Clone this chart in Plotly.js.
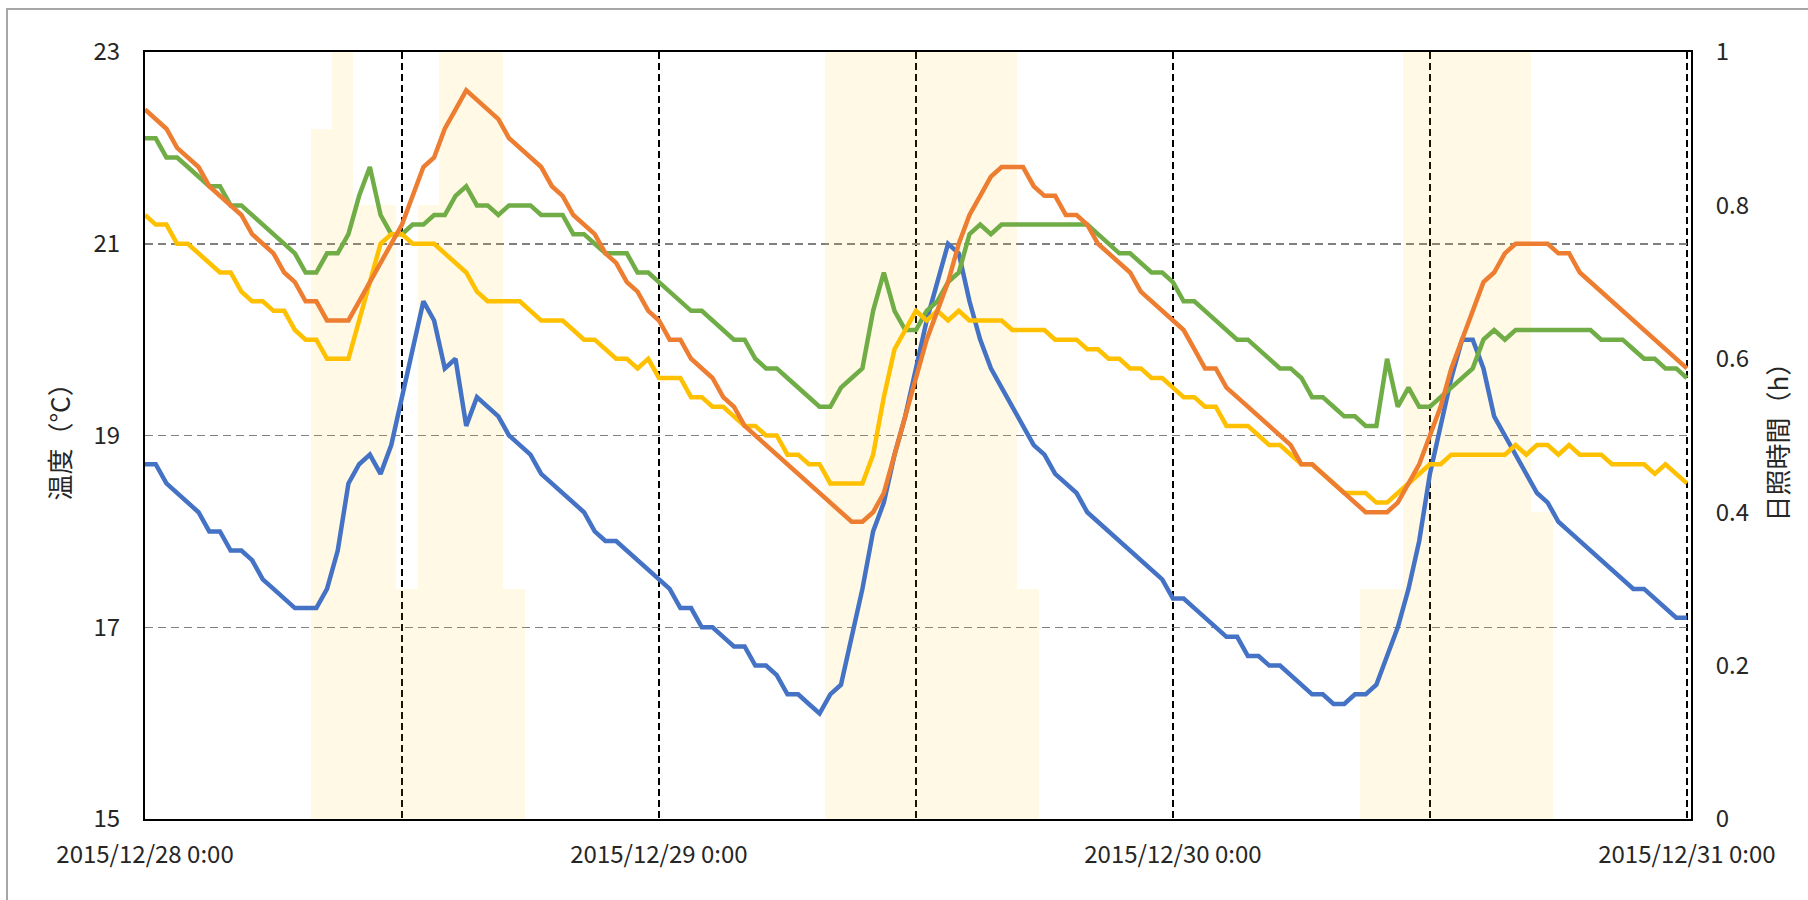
<!DOCTYPE html>
<html>
<head>
<meta charset="utf-8">
<script src="https://cdn.plot.ly/plotly-3.0.1.min.js"></script>
<style>
html, body { margin: 0; padding: 0; background: #ffffff; }
#wrap { position: relative; width: 1808px; height: 900px; overflow: hidden; }
#chart { width: 1808px; height: 900px; }
#chart svg text {
  text-spacing-trim: space-all;
  font-kerning: none;
  font-feature-settings: "kern" 0, "palt" 0, "halt" 0, "chws" 0, "vchw" 0;
}
#frame { position: absolute; left: 6px; top: 8px; width: 1900px; height: 1000px;
         border-left: 2px solid #a6a6a6; border-top: 2px solid #a6a6a6; pointer-events: none; }
</style>
</head>
<body>
<div id="wrap"><div id="chart"></div><div id="frame"></div></div>
<script>
// ---- Time index: 2015/12/28 0:00 to 2015/12/31 0:00, every 30 minutes ----
const startDateUTC = Date.UTC(2015, 11, 28, 0, 0);
const stepMinutes = 30;
const pointCount = 145;

// ---- Temperature series (°C), one value per 30 minutes ----
const blueTemp = [
  18.7, 18.7, 18.5, 18.4, 18.3, 18.2, 18.0, 18.0, 17.8, 17.8, 17.7, 17.5, 17.4, 17.3, 17.2, 17.2, 17.2, 17.4, 17.8, 18.5, 18.7, 18.8, 18.6, 18.9, 19.4,
  19.9, 20.4, 20.2, 19.7, 19.8, 19.1, 19.4, 19.3, 19.2, 19.0, 18.9, 18.8, 18.6, 18.5, 18.4, 18.3, 18.2, 18.0, 17.9, 17.9, 17.8, 17.7, 17.6, 17.5,
  17.4, 17.2, 17.2, 17.0, 17.0, 16.9, 16.8, 16.8, 16.6, 16.6, 16.5, 16.3, 16.3, 16.2, 16.1, 16.3, 16.4, 16.9, 17.4, 18.0, 18.3, 18.8, 19.2, 19.7,
  20.2, 20.6, 21.0, 20.9, 20.4, 20.0, 19.7, 19.5, 19.3, 19.1, 18.9, 18.8, 18.6, 18.5, 18.4, 18.2, 18.1, 18.0, 17.9, 17.8, 17.7, 17.6, 17.5, 17.3,
  17.3, 17.2, 17.1, 17.0, 16.9, 16.9, 16.7, 16.7, 16.6, 16.6, 16.5, 16.4, 16.3, 16.3, 16.2, 16.2, 16.3, 16.3, 16.4, 16.7, 17.0, 17.4, 17.9, 18.6,
  19.1, 19.6, 20.0, 20.0, 19.7, 19.2, 19.0, 18.8, 18.6, 18.4, 18.3, 18.1, 18.0, 17.9, 17.8, 17.7, 17.6, 17.5, 17.4, 17.4, 17.3, 17.2, 17.1, 17.1
];
const orangeTemp = [
  22.4, 22.3, 22.2, 22.0, 21.9, 21.8, 21.6, 21.5, 21.4, 21.3, 21.1, 21.0, 20.9, 20.7, 20.6, 20.4, 20.4, 20.2, 20.2, 20.2, 20.4, 20.6, 20.8, 21.0, 21.2,
  21.5, 21.8, 21.9, 22.2, 22.4, 22.6, 22.5, 22.4, 22.3, 22.1, 22.0, 21.9, 21.8, 21.6, 21.5, 21.3, 21.2, 21.1, 20.9, 20.8, 20.6, 20.5, 20.3, 20.2,
  20.0, 20.0, 19.8, 19.7, 19.6, 19.4, 19.3, 19.1, 19.0, 18.9, 18.8, 18.7, 18.6, 18.5, 18.4, 18.3, 18.2, 18.1, 18.1, 18.2, 18.4, 18.8, 19.2, 19.6,
  20.0, 20.3, 20.6, 21.0, 21.3, 21.5, 21.7, 21.8, 21.8, 21.8, 21.6, 21.5, 21.5, 21.3, 21.3, 21.2, 21.0, 20.9, 20.8, 20.7, 20.5, 20.4, 20.3, 20.2,
  20.1, 19.9, 19.7, 19.7, 19.5, 19.4, 19.3, 19.2, 19.1, 19.0, 18.9, 18.7, 18.7, 18.6, 18.5, 18.4, 18.3, 18.2, 18.2, 18.2, 18.3, 18.5, 18.7, 19.0,
  19.3, 19.7, 20.0, 20.3, 20.6, 20.7, 20.9, 21.0, 21.0, 21.0, 21.0, 20.9, 20.9, 20.7, 20.6, 20.5, 20.4, 20.3, 20.2, 20.1, 20.0, 19.9, 19.8, 19.7
];
const greenTemp = [
  22.1, 22.1, 21.9, 21.9, 21.8, 21.7, 21.6, 21.6, 21.4, 21.4, 21.3, 21.2, 21.1, 21.0, 20.9, 20.7, 20.7, 20.9, 20.9, 21.1, 21.5, 21.8, 21.3, 21.1, 21.1,
  21.2, 21.2, 21.3, 21.3, 21.5, 21.6, 21.4, 21.4, 21.3, 21.4, 21.4, 21.4, 21.3, 21.3, 21.3, 21.1, 21.1, 21.0, 20.9, 20.9, 20.9, 20.7, 20.7, 20.6,
  20.5, 20.4, 20.3, 20.3, 20.2, 20.1, 20.0, 20.0, 19.8, 19.7, 19.7, 19.6, 19.5, 19.4, 19.3, 19.3, 19.5, 19.6, 19.7, 20.3, 20.7, 20.3, 20.1, 20.1,
  20.3, 20.4, 20.6, 20.7, 21.1, 21.2, 21.1, 21.2, 21.2, 21.2, 21.2, 21.2, 21.2, 21.2, 21.2, 21.2, 21.1, 21.0, 20.9, 20.9, 20.8, 20.7, 20.7, 20.6,
  20.4, 20.4, 20.3, 20.2, 20.1, 20.0, 20.0, 19.9, 19.8, 19.7, 19.7, 19.6, 19.4, 19.4, 19.3, 19.2, 19.2, 19.1, 19.1, 19.8, 19.3, 19.5, 19.3, 19.3,
  19.4, 19.5, 19.6, 19.7, 20.0, 20.1, 20.0, 20.1, 20.1, 20.1, 20.1, 20.1, 20.1, 20.1, 20.1, 20.0, 20.0, 20.0, 19.9, 19.8, 19.8, 19.7, 19.7, 19.6
];
const yellowTemp = [
  21.3, 21.2, 21.2, 21.0, 21.0, 20.9, 20.8, 20.7, 20.7, 20.5, 20.4, 20.4, 20.3, 20.3, 20.1, 20.0, 20.0, 19.8, 19.8, 19.8, 20.2, 20.6, 21.0, 21.1, 21.1,
  21.0, 21.0, 21.0, 20.9, 20.8, 20.7, 20.5, 20.4, 20.4, 20.4, 20.4, 20.3, 20.2, 20.2, 20.2, 20.1, 20.0, 20.0, 19.9, 19.8, 19.8, 19.7, 19.8, 19.6,
  19.6, 19.6, 19.4, 19.4, 19.3, 19.3, 19.2, 19.1, 19.1, 19.0, 19.0, 18.8, 18.8, 18.7, 18.7, 18.5, 18.5, 18.5, 18.5, 18.8, 19.4, 19.9, 20.1, 20.3,
  20.2, 20.3, 20.2, 20.3, 20.2, 20.2, 20.2, 20.2, 20.1, 20.1, 20.1, 20.1, 20.0, 20.0, 20.0, 19.9, 19.9, 19.8, 19.8, 19.7, 19.7, 19.6, 19.6, 19.5,
  19.4, 19.4, 19.3, 19.3, 19.1, 19.1, 19.1, 19.0, 18.9, 18.9, 18.8, 18.7, 18.7, 18.6, 18.5, 18.4, 18.4, 18.4, 18.3, 18.3, 18.4, 18.5, 18.6, 18.7,
  18.7, 18.8, 18.8, 18.8, 18.8, 18.8, 18.8, 18.9, 18.8, 18.9, 18.9, 18.8, 18.9, 18.8, 18.8, 18.8, 18.7, 18.7, 18.7, 18.7, 18.6, 18.7, 18.6, 18.5
];

// ---- Sunshine duration (h), hourly ----
const sunshineTimes = [
  '2015-12-28 08:00', '2015-12-28 09:00', '2015-12-28 10:00', '2015-12-28 11:00', '2015-12-28 12:00',
  '2015-12-28 13:00', '2015-12-28 14:00', '2015-12-28 15:00', '2015-12-28 16:00', '2015-12-28 17:00',
  '2015-12-29 08:00', '2015-12-29 09:00', '2015-12-29 10:00', '2015-12-29 11:00', '2015-12-29 12:00',
  '2015-12-29 13:00', '2015-12-29 14:00', '2015-12-29 15:00', '2015-12-29 16:00', '2015-12-29 17:00',
  '2015-12-30 09:00', '2015-12-30 10:00', '2015-12-30 11:00', '2015-12-30 12:00',
  '2015-12-30 13:00', '2015-12-30 14:00', '2015-12-30 15:00', '2015-12-30 16:00', '2015-12-30 17:00'
];
const sunshineHours = [
  0.9, 1.0, 0.8, 0.8, 0.3, 0.8, 1.0, 1.0, 1.0, 0.3,
  1.0, 1.0, 1.0, 1.0, 1.0, 1.0, 1.0, 1.0, 1.0, 0.3,
  0.3, 0.3, 1.0, 1.0, 1.0, 1.0, 1.0, 1.0, 0.4
];

// ---- Axis texts ----
const leftTitle = '温度（°C）';
const rightTitle = '日照時間（h）';
const xTickFormat = '%Y/%m/%d %-H:%M';

function timeAt(i) {
  const d = new Date(startDateUTC + i * stepMinutes * 60000);
  return d.toISOString().slice(0, 16).replace('T', ' ');
}
const times = [];
for (let i = 0; i < pointCount; i++) times.push(timeAt(i));

const HOUR = 3600000;
const FONT = '"Noto Sans CJK JP", "Noto Sans", sans-serif';
const TXT = '#262626';
const PLOT_L = 145, PLOT_W = 1546;

function lineTrace(values, color) {
  return {
    type: 'scatter', mode: 'lines', x: times, y: values, yaxis: 'y2',
    line: { color: color, width: 4.5, shape: 'linear' },
    hoverinfo: 'skip', showlegend: false
  };
}

const data = [
  {
    type: 'bar', x: sunshineTimes, y: sunshineHours, yaxis: 'y',
    width: HOUR, offset: -0.265 * HOUR,
    marker: { color: 'rgba(255,192,0,0.1)', line: { width: 0 } },
    hoverinfo: 'skip', showlegend: false
  },
  lineTrace(blueTemp, '#4472C4'),
  lineTrace(greenTemp, '#70AD47'),
  lineTrace(yellowTemp, '#FFC000'),
  lineTrace(orangeTemp, '#ED7D31')
];

const layout = {
  width: 1808, height: 900,
  margin: { l: 145, r: 117, t: 52, b: 81, pad: 0 },
  paper_bgcolor: '#ffffff', plot_bgcolor: 'rgba(0,0,0,0)',
  font: { family: FONT, size: 24, color: TXT },
  showlegend: false,
  bargap: 0,
  xaxis: {
    type: 'date',
    range: ['2015-12-28 00:00', '2015-12-31 00:11:30'],
    tick0: '2015-12-28 00:00', dtick: 86400000,
    tickformat: xTickFormat,
    ticks: '', ticklabelstandoff: 13,
    tickfont: { family: FONT, size: 24, color: TXT },
    showgrid: true, gridcolor: '#000000', gridwidth: 1.5, griddash: '7px,4px',
    minor: { dtick: 43200000, showgrid: true, gridcolor: '#000000', gridwidth: 1.5, griddash: '7px,4px', ticks: '' },
    showline: true, linecolor: '#000000', linewidth: 2, mirror: true,
    zeroline: false, fixedrange: true
  },
  yaxis: {
    side: 'right',
    range: [0, 1], tick0: 0, dtick: 0.2,
    ticks: '', ticklabelstandoff: 18,
    tickfont: { family: FONT, size: 24, color: TXT },
    showgrid: false, zeroline: false,
    showline: true, linecolor: '#000000', linewidth: 2,
    fixedrange: true
  },
  yaxis2: {
    side: 'left', overlaying: 'y',
    range: [15, 23], tick0: 15, dtick: 2,
    ticks: '', ticklabelstandoff: 18,
    tickfont: { family: FONT, size: 24, color: TXT },
    showgrid: true, gridcolor: '#808080', gridwidth: 1.5, griddash: '8px,5px',
    zeroline: false,
    showline: true, linecolor: '#000000', linewidth: 2,
    fixedrange: true
  },
  annotations: [
    { text: leftTitle, xref: 'paper', yref: 'paper', x: (58 - PLOT_L) / PLOT_W, y: 0.5,
      xanchor: 'center', yanchor: 'middle', textangle: -90, showarrow: false,
      font: { family: FONT, size: 26, color: TXT } },
    { text: rightTitle, xref: 'paper', yref: 'paper', x: (1776 - PLOT_L) / PLOT_W, y: 0.5,
      xanchor: 'center', yanchor: 'middle', textangle: -90, showarrow: false,
      font: { family: FONT, size: 26, color: TXT } }
  ]
};

Plotly.newPlot('chart', data, layout, { displayModeBar: false, staticPlot: true });
</script>
</body>
</html>
